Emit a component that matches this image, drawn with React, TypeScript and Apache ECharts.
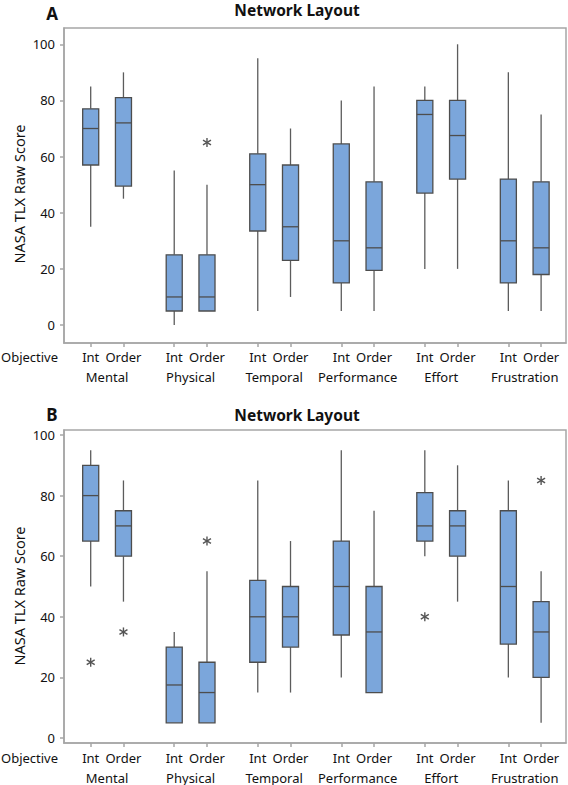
import React, { useEffect, useRef } from "react";
import * as echarts from "echarts";

// ---- Data ----
const categories = ["Mental", "Physical", "Temporal", "Performance", "Effort", "Frustration"];
const conditions = ["Int", "Order"];
const yTicks = [0, 20, 40, 60, 80, 100];

// [min, Q1, median, Q3, max] for each box in order: Mental Int, Mental Order, Physical Int, ...
const boxesA = [
  [35, 57, 70, 77, 85],
  [45, 49.5, 72, 81, 90],
  [0, 5, 10, 25, 55],
  [5, 5, 10, 25, 50],
  [5, 33.5, 50, 61, 95],
  [10, 23, 35, 57, 70],
  [5, 15, 30, 64.5, 80],
  [5, 19.5, 27.5, 51, 85],
  [20, 47, 75, 80, 85],
  [20, 52, 67.5, 80, 100],
  [5, 15, 30, 52, 90],
  [5, 18, 27.5, 51, 75],
];
// [box index, value]
const outliersA = [[3, 65]];

const boxesB = [
  [50, 65, 80, 90, 95],
  [45, 60, 70, 75, 85],
  [5, 5, 17.5, 30, 35],
  [5, 5, 15, 25, 55],
  [15, 25, 40, 52, 85],
  [15, 30, 40, 50, 65],
  [20, 34, 50, 65, 95],
  [15, 15, 35, 50, 75],
  [60, 65, 70, 81, 95],
  [45, 60, 70, 75, 90],
  [20, 31, 50, 75, 85],
  [5, 20, 35, 45, 55],
];
const outliersB = [[0, 25], [1, 35], [3, 65], [8, 40], [11, 85]];

// ---- Layout constants ----
const PAIR_STEP = 2.55;
const BOX_W = 0.49;
const X_MIN = -0.815;
const X_MAX = 14.51;
const FONT = "'Noto Sans', 'Open Sans', sans-serif";
const TEXT = "#111111";
const FRAME = "#a6a6a6";
const BOX_FILL = "#7ba6db";
const BOX_LINE = "#4d4d4d";
const WHISK = "#5c5c5c";

const xPos = (b: number) => Math.floor(b / 2) * PAIR_STEP + (b % 2);
const boxPositions = categories.flatMap((_, g) => conditions.map((__, c) => xPos(g * 2 + c)));
const groupPositions = categories.map((_, g) => g * PAIR_STEP + 0.5);

const condLabel = (v: number) => {
  const i = boxPositions.findIndex((p) => Math.abs(p - v) < 1e-6);
  return i >= 0 ? conditions[i % 2] : "";
};
const groupLabel = (v: number) => {
  const i = groupPositions.findIndex((p) => Math.abs(p - v) < 1e-6);
  return i >= 0 ? categories[i] : "";
};

function makeAxes(gridIndex: number, condMargin: number, groupMargin: number) {
  return [
    {
      type: "value",
      gridIndex,
      min: X_MIN,
      max: X_MAX,
      position: "bottom",
      axisLine: { show: true, onZero: false, lineStyle: { color: FRAME, width: 1.5 } },
      axisTick: { show: true, length: 4, lineStyle: { color: FRAME, width: 1.5 }, customValues: boxPositions },
      axisLabel: {
        customValues: boxPositions,
        formatter: condLabel,
        margin: condMargin,
        color: TEXT,
        fontSize: 13,
        fontFamily: FONT,
      },
      splitLine: { show: false },
    },
    {
      type: "value",
      gridIndex,
      min: X_MIN,
      max: X_MAX,
      position: "bottom",
      axisLine: { show: false, onZero: false },
      axisTick: { show: false, customValues: groupPositions },
      axisLabel: {
        customValues: groupPositions,
        formatter: groupLabel,
        margin: groupMargin,
        color: TEXT,
        fontSize: 13,
        fontFamily: FONT,
      },
      splitLine: { show: false },
    },
  ];
}

function makeY(gridIndex: number, min: number, max: number) {
  return {
    type: "value",
    gridIndex,
    min,
    max,
    axisLine: { show: true, onZero: false, lineStyle: { color: FRAME, width: 1.5 } },
    axisTick: { show: true, length: 4, lineStyle: { color: FRAME, width: 1.5 }, customValues: yTicks },
    axisLabel: { customValues: yTicks, margin: 9, color: TEXT, fontSize: 13, fontFamily: FONT },
    splitLine: { show: false },
  };
}

function renderBox(_params: any, api: any) {
  const x = api.value(0);
  const pMin = api.coord([x, api.value(1)]);
  const pQ1 = api.coord([x, api.value(2)]);
  const pMed = api.coord([x, api.value(3)]);
  const pQ3 = api.coord([x, api.value(4)]);
  const pMax = api.coord([x, api.value(5)]);
  const w = api.size([BOX_W, 0])[0];
  const cx = pMed[0];
  const children: any[] = [];
  if (pMin[1] - pQ1[1] > 0.5) {
    children.push({
      type: "line",
      shape: { x1: cx, y1: pQ1[1], x2: cx, y2: pMin[1] },
      style: { stroke: WHISK, lineWidth: 1.3 },
    });
  }
  if (pQ3[1] - pMax[1] > 0.5) {
    children.push({
      type: "line",
      shape: { x1: cx, y1: pMax[1], x2: cx, y2: pQ3[1] },
      style: { stroke: WHISK, lineWidth: 1.3 },
    });
  }
  children.push({
    type: "rect",
    shape: { x: cx - w / 2, y: pQ3[1], width: w, height: pQ1[1] - pQ3[1] },
    style: { fill: BOX_FILL, stroke: BOX_LINE, lineWidth: 1.3 },
  });
  children.push({
    type: "line",
    shape: { x1: cx - w / 2, y1: pMed[1], x2: cx + w / 2, y2: pMed[1] },
    style: { stroke: BOX_LINE, lineWidth: 1.3 },
  });
  return { type: "group", children };
}

function renderStar(_params: any, api: any) {
  const p = api.coord([api.value(0), api.value(1)]);
  const s = { stroke: "#555555", lineWidth: 1.4 };
  return {
    type: "group",
    x: p[0],
    y: p[1],
    children: [
      { type: "line", shape: { x1: 0, y1: -4.5, x2: 0, y2: 4.5 }, style: s },
      { type: "line", shape: { x1: -4, y1: -2.4, x2: 4, y2: 2.4 }, style: s },
      { type: "line", shape: { x1: -4, y1: 2.4, x2: 4, y2: -2.4 }, style: s },
    ],
  };
}

function panelSeries(boxes: number[][], outliers: number[][], xAxisIndex: number, yAxisIndex: number) {
  return [
    {
      type: "custom",
      xAxisIndex,
      yAxisIndex,
      renderItem: renderBox,
      encode: { x: 0, y: [1, 2, 3, 4, 5] },
      data: boxes.map((b, i) => [xPos(i), ...b]),
    },
    {
      type: "custom",
      xAxisIndex,
      yAxisIndex,
      renderItem: renderStar,
      encode: { x: 0, y: 1 },
      data: outliers.map(([i, v]) => [xPos(i), v]),
    },
  ];
}

function textEl(text: string, x: number, y: number, size: number, bold: boolean, align = "center", rotation = 0) {
  return {
    type: "text",
    x,
    y,
    rotation,
    style: {
      text,
      fill: TEXT,
      font: `${bold ? "bold " : ""}${size}px ${FONT}`,
      align,
      verticalAlign: "middle",
    },
  };
}

export default function App() {
  const ref = useRef<HTMLDivElement>(null);
  useEffect(() => {
    if (!ref.current) return;
    const chart = echarts.init(ref.current, null, { renderer: "svg" });
    chart.setOption({
      animation: false,
      backgroundColor: "#ffffff",
      grid: [
        { left: 64, right: 2, top: 28, height: 315, show: true, borderColor: FRAME, borderWidth: 1.5 },
        { left: 64, right: 2, top: 430, height: 313, show: true, borderColor: FRAME, borderWidth: 1.5 },
      ],
      xAxis: [...makeAxes(0, 7, 27), ...makeAxes(1, 8, 28)],
      yAxis: [makeY(0, -6.4, 105.8), makeY(1, -1.65, 101.65)],
      series: [...panelSeries(boxesA, outliersA, 0, 0), ...panelSeries(boxesB, outliersB, 2, 1)],
      graphic: [
        textEl("A", 52, 13, 17, true),
        textEl("Network Layout", 297, 10, 15.5, true),
        textEl("NASA TLX Raw Score", 18.5, 194, 14.5, false, "center", Math.PI / 2),
        textEl("Objective", 1, 357, 13, false, "left"),
        textEl("B", 52, 414, 17, true),
        textEl("Network Layout", 297, 415, 15.5, true),
        textEl("NASA TLX Raw Score", 18.5, 596, 14.5, false, "center", Math.PI / 2),
        textEl("Objective", 1, 758, 13, false, "left"),
      ],
    });
    return () => chart.dispose();
  }, []);
  return <div ref={ref} style={{ position: "fixed", left: 0, top: 0, width: 568, height: 785 }} />;
}
